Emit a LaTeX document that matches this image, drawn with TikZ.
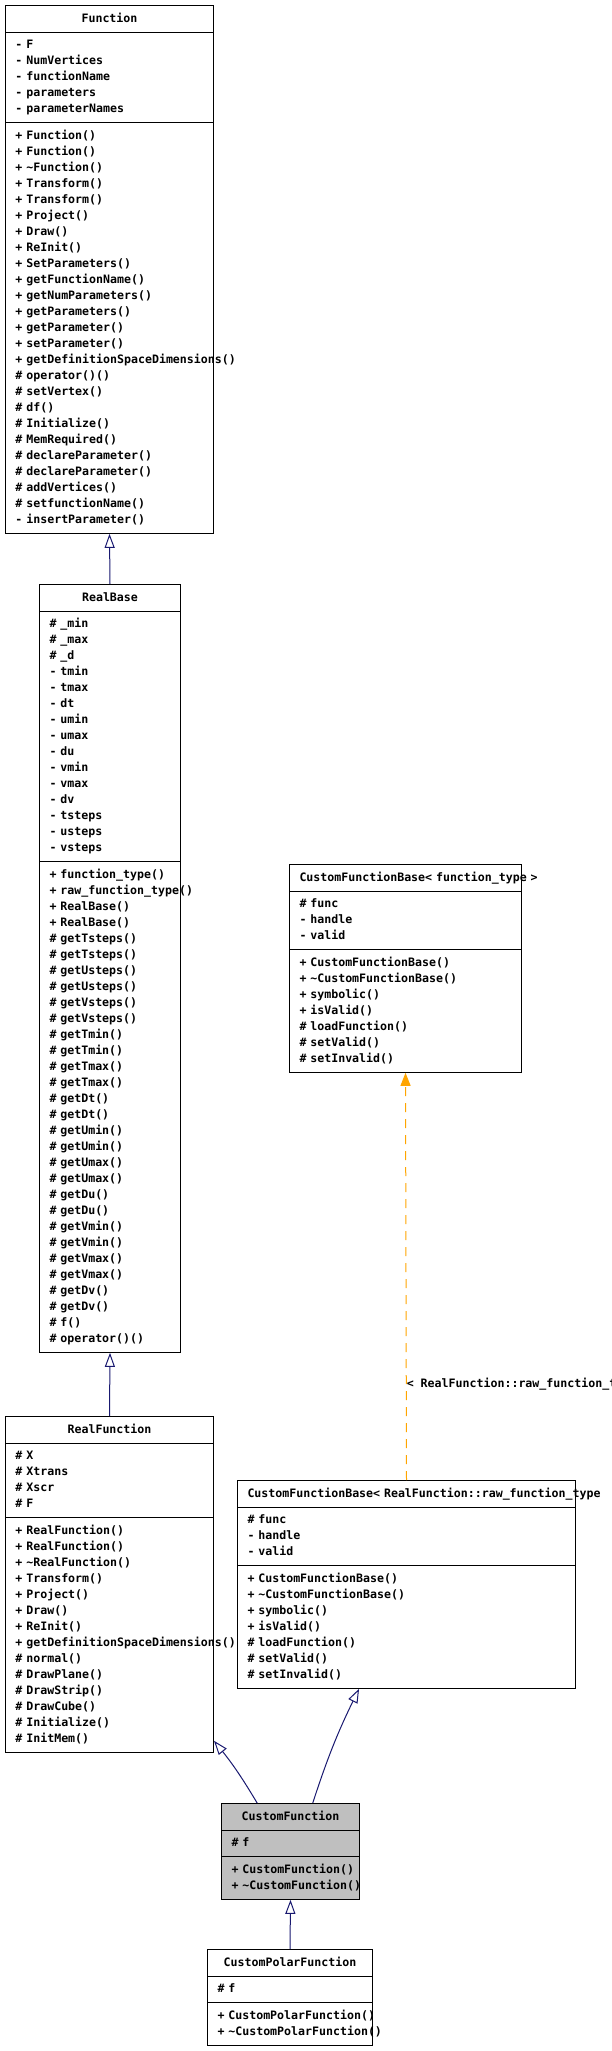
\documentclass[tikz,border=0pt]{standalone}
\usepackage{fontspec}
\setmonofont{DejaVu Sans Mono}
\usepackage{tikz}
\usetikzlibrary{positioning, calc, shapes.multipart, arrows.meta}

\definecolor{doxyNavy}{RGB}{25, 25, 112}
\definecolor{doxyOrange}{RGB}{255, 165, 0}
\definecolor{doxyGray}{RGB}{191, 191, 191}

\newcommand{\umlfont}{\ttfamily\bfseries\fontsize{11.6pt}{16pt}\selectfont}
\newcommand{\ctitle}[1]{\makebox[\linewidth][c]{\strut#1}}
\newcommand{\ltitle}[1]{\mbox{\strut#1}}
\newcommand{\vpub}[1]{\mbox{\strut+ #1}}
\newcommand{\vprot}[1]{\mbox{\strut\# #1}}
\newcommand{\vpriv}[1]{\mbox{\strut- #1}}

\begin{document}
\begin{tikzpicture}[
    x=1pt, y=-1pt,
    classbox/.style={rectangle split, rectangle split parts=3, draw=black,
                     fill=white, line width=1pt, anchor=north west,
                     inner xsep=10pt, inner ysep=4.8pt, align=left,
                     font=\umlfont},
    inherit/.style={doxyNavy, line width=1pt,
                    -{Triangle[length=14pt, width=10pt, fill=white]}},
    usedby/.style={doxyOrange, line width=1pt, dash pattern=on 9pt off 7pt,
                   -{Triangle[length=13pt, width=10pt]}},
  ]
    \useasboundingbox (0,0) rectangle (611,2051);

    % Function
    \node[classbox, text width=188pt] (FN) at (5,5) {
      \ctitle{Function}
      \nodepart{two}
      \vpriv{F}\\
      \vpriv{NumVertices}\\
      \vpriv{functionName}\\
      \vpriv{parameters}\\
      \vpriv{parameterNames}
      \nodepart{three}
      \vpub{Function()}\\
      \vpub{Function()}\\
      \vpub{\textasciitilde Function()}\\
      \vpub{Transform()}\\
      \vpub{Transform()}\\
      \vpub{Project()}\\
      \vpub{Draw()}\\
      \vpub{ReInit()}\\
      \vpub{SetParameters()}\\
      \vpub{getFunctionName()}\\
      \vpub{getNumParameters()}\\
      \vpub{getParameters()}\\
      \vpub{getParameter()}\\
      \vpub{setParameter()}\\
      \vpub{getDefinitionSpaceDimensions()}\\
      \vprot{operator()()}\\
      \vprot{setVertex()}\\
      \vprot{df()}\\
      \vprot{Initialize()}\\
      \vprot{MemRequired()}\\
      \vprot{declareParameter()}\\
      \vprot{declareParameter()}\\
      \vprot{addVertices()}\\
      \vprot{setfunctionName()}\\
      \vpriv{insertParameter()}
    };

    % RealBase
    \node[classbox, text width=121pt] (RB) at (39,584) {
      \ctitle{RealBase}
      \nodepart{two}
      \vprot{\_min}\\
      \vprot{\_max}\\
      \vprot{\_d}\\
      \vpriv{tmin}\\
      \vpriv{tmax}\\
      \vpriv{dt}\\
      \vpriv{umin}\\
      \vpriv{umax}\\
      \vpriv{du}\\
      \vpriv{vmin}\\
      \vpriv{vmax}\\
      \vpriv{dv}\\
      \vpriv{tsteps}\\
      \vpriv{usteps}\\
      \vpriv{vsteps}
      \nodepart{three}
      \vpub{function\_type()}\\
      \vpub{raw\_function\_type()}\\
      \vpub{RealBase()}\\
      \vpub{RealBase()}\\
      \vprot{getTsteps()}\\
      \vprot{getTsteps()}\\
      \vprot{getUsteps()}\\
      \vprot{getUsteps()}\\
      \vprot{getVsteps()}\\
      \vprot{getVsteps()}\\
      \vprot{getTmin()}\\
      \vprot{getTmin()}\\
      \vprot{getTmax()}\\
      \vprot{getTmax()}\\
      \vprot{getDt()}\\
      \vprot{getDt()}\\
      \vprot{getUmin()}\\
      \vprot{getUmin()}\\
      \vprot{getUmax()}\\
      \vprot{getUmax()}\\
      \vprot{getDu()}\\
      \vprot{getDu()}\\
      \vprot{getVmin()}\\
      \vprot{getVmin()}\\
      \vprot{getVmax()}\\
      \vprot{getVmax()}\\
      \vprot{getDv()}\\
      \vprot{getDv()}\\
      \vprot{f()}\\
      \vprot{operator()()}
    };

    % RealFunction
    \node[classbox, text width=188pt] (RF) at (5,1416) {
      \ctitle{RealFunction}
      \nodepart{two}
      \vprot{X}\\
      \vprot{Xtrans}\\
      \vprot{Xscr}\\
      \vprot{F}
      \nodepart{three}
      \vpub{RealFunction()}\\
      \vpub{RealFunction()}\\
      \vpub{\textasciitilde RealFunction()}\\
      \vpub{Transform()}\\
      \vpub{Project()}\\
      \vpub{Draw()}\\
      \vpub{ReInit()}\\
      \vpub{getDefinitionSpaceDimensions()}\\
      \vprot{normal()}\\
      \vprot{DrawPlane()}\\
      \vprot{DrawStrip()}\\
      \vprot{DrawCube()}\\
      \vprot{Initialize()}\\
      \vprot{InitMem()}
    };

    % CustomFunctionBase< function_type >
    \node[classbox, text width=212pt] (CB1) at (289,864) {
      \ltitle{CustomFunctionBase< function\_type >}
      \nodepart{two}
      \vprot{func}\\
      \vpriv{handle}\\
      \vpriv{valid}
      \nodepart{three}
      \vpub{CustomFunctionBase()}\\
      \vpub{\textasciitilde CustomFunctionBase()}\\
      \vpub{symbolic()}\\
      \vpub{isValid()}\\
      \vprot{loadFunction()}\\
      \vprot{setValid()}\\
      \vprot{setInvalid()}
    };

    % CustomFunctionBase< RealFunction::raw_function_type >
    \node[classbox, text width=318pt] (CB2) at (237,1480) {
      \ltitle{CustomFunctionBase< RealFunction::raw\_function\_type}
      \nodepart{two}
      \vprot{func}\\
      \vpriv{handle}\\
      \vpriv{valid}
      \nodepart{three}
      \vpub{CustomFunctionBase()}\\
      \vpub{\textasciitilde CustomFunctionBase()}\\
      \vpub{symbolic()}\\
      \vpub{isValid()}\\
      \vprot{loadFunction()}\\
      \vprot{setValid()}\\
      \vprot{setInvalid()}
    };

    % CustomFunction
    \node[classbox, fill=doxyGray, text width=118pt] (CF) at (221,1803) {
      \ctitle{CustomFunction}
      \nodepart{two}
      \vprot{f}
      \nodepart{three}
      \vpub{CustomFunction()}\\
      \vpub{\textasciitilde CustomFunction()}
    };

    % CustomPolarFunction
    \node[classbox, text width=145pt] (CP) at (207,1949) {
      \ctitle{CustomPolarFunction}
      \nodepart{two}
      \vprot{f}
      \nodepart{three}
      \vpub{CustomPolarFunction()}\\
      \vpub{\textasciitilde CustomPolarFunction()}
    };

    % inheritance
    \draw[inherit] (RB.north) -- (FN.south);
    \draw[inherit] (RF.north) -- (RB.south);
    \draw[inherit] ($(CF.north west)!0.26!(CF.north east)$)
      to[bend right=4] ([yshift=12pt]RF.south east);
    \draw[inherit] ($(CF.north west)!0.66!(CF.north east)$)
      to[bend left=4] ($(CB2.south west)!0.36!(CB2.south east)$);
    \draw[inherit] (CP.north) -- (CF.south);

    % template instantiation
    \draw[usedby] (CB2.north) --
      node[pos=0.228, anchor=base west, inner sep=0pt, text=black,
           font=\umlfont] (TPL)
      {< RealFunction::raw\_function\_type >} (CB1.south);
  \end{tikzpicture}
\end{document}
